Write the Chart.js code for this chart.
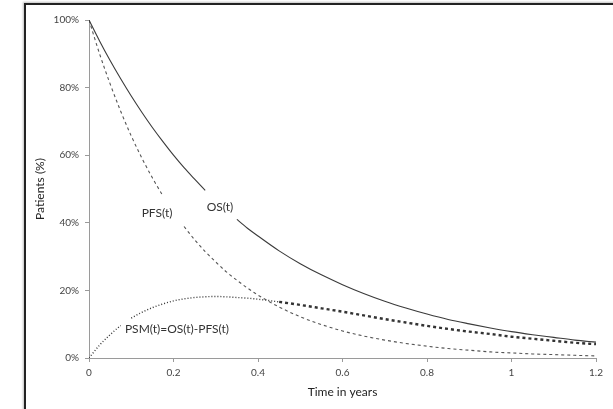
<!DOCTYPE html>
<html>
<head>
<meta charset="utf-8">
<script src="https://cdn.jsdelivr.net/npm/chart.js@4/dist/chart.umd.min.js"></script>
<style>
  html, body { margin: 0; padding: 0; background: #fff; }
  #wrap { position: relative; width: 613px; height: 409px; overflow: hidden; }
  #frame {
    position: absolute; left: 24px; top: 3px; width: 620px; height: 420px;
    border-left: 2px solid #222; border-top: 2px solid #222;
    box-shadow: -1px -1px 2px rgba(0,0,0,0.25);
  }
  canvas { position: absolute; left: 0; top: 0; }
</style>
</head>
<body>
<div id="wrap">
  <div id="frame"></div>
  <canvas id="chart" width="613" height="409"></canvas>
</div>
<script>
'use strict';

// time points (years)
var times = [0, 0.025, 0.05, 0.075, 0.1, 0.125, 0.15, 0.175, 0.2, 0.225, 0.25, 0.275, 0.3,
  0.325, 0.35, 0.375, 0.4, 0.45, 0.5, 0.55, 0.6, 0.65, 0.7, 0.75, 0.8, 0.85, 0.9, 0.95,
  1.0, 1.05, 1.1, 1.15, 1.2];

// overall survival (%)
var osValues = [100, 93.8, 88.0, 82.6, 77.5, 72.7, 68.2, 64.0, 60.0, 56.3, 52.9, 49.6, 46.5,
  43.7, 41.0, 38.4, 36.1, 31.7, 27.9, 24.6, 21.7, 19.1, 16.8, 14.8, 13.0, 11.4, 10.1, 8.9,
  7.8, 6.9, 6.1, 5.3, 4.7];

// progression free survival (%)
var pfsValues = [100, 90.0, 81.1, 73.0, 65.7, 59.2, 53.3, 48.0, 43.2, 38.9, 35.0, 31.5, 28.4,
  25.5, 23.0, 20.7, 18.6, 15.1, 12.2, 9.9, 8.0, 6.5, 5.3, 4.3, 3.5, 2.8, 2.3, 1.8,
  1.5, 1.2, 1.0, 0.8, 0.6];

// post-progression survival = OS - PFS (%)
var psmValues = [0, 3.8, 6.9, 9.6, 11.8, 13.5, 14.9, 16.0, 16.9, 17.5, 17.9, 18.1, 18.2,
  18.1, 17.9, 17.7, 17.4, 16.6, 15.7, 14.7, 13.7, 12.6, 11.5, 10.5, 9.5, 8.6, 7.8, 7.1,
  6.3, 5.7, 5.1, 4.5, 4.1];

var xTicks = [0, 0.2, 0.4, 0.6, 0.8, 1, 1.2];
var yTicks = [0, 20, 40, 60, 80, 100];

var labelFont = 'Lato, "Open Sans", sans-serif';

function toPoints(vals) {
    return times.map(function(t, i) { return { x: t, y: vals[i] }; });
}

// hide the part of a curve that runs under its label
function gap(from, to) {
    return function(ctx) {
        if (ctx.p0.parsed.x >= from - 1e-9 && ctx.p1.parsed.x <= to + 1e-9) {
            return 'rgba(0,0,0,0)';
        }
        return undefined;
    };
}

var curveLabels = {
    id: 'curveLabels',
    afterDatasetsDraw: function(chart) {
        var ctx = chart.ctx;
        var xs = chart.scales.x;
        var ys = chart.scales.y;
        ctx.save();
        ctx.fillStyle = '#333';
        ctx.font = '12px ' + labelFont;
        ctx.textBaseline = 'middle';
        ctx.textAlign = 'center';
        ctx.fillText('OS(t)', xs.getPixelForValue(0.31), ys.getPixelForValue(44.7));
        ctx.fillText('PFS(t)', xs.getPixelForValue(0.161), ys.getPixelForValue(42.9));
        ctx.textAlign = 'left';
        ctx.fillText('PSM(t)=OS(t)-PFS(t)', xs.getPixelForValue(0.085), ys.getPixelForValue(8.6));
        ctx.restore();
    }
};

var ctx = document.getElementById('chart').getContext('2d');

var chart = new Chart(ctx, {
    type: 'line',
    data: {
        datasets: [
            {
                label: 'OS(t)',
                data: toPoints(osValues),
                borderColor: '#3a3a3a',
                borderWidth: 1.1,
                segment: { borderColor: gap(0.275, 0.35) }
            },
            {
                label: 'PFS(t)',
                data: toPoints(pfsValues),
                borderColor: '#555',
                borderWidth: 1.1,
                borderDash: [3, 3],
                segment: { borderColor: gap(0.175, 0.225) }
            },
            {
                label: 'PSM(t)',
                data: toPoints(psmValues),
                borderColor: '#333',
                borderWidth: 1.4,
                borderDash: [1, 2],
                segment: {
                    borderColor: gap(0.075, 0.1),
                    borderWidth: function(c) { return c.p0.parsed.x >= 0.45 ? 2.4 : undefined; },
                    borderDash: function(c) { return c.p0.parsed.x >= 0.45 ? [3, 3] : undefined; }
                }
            }
        ]
    },
    options: {
        responsive: false,
        animation: false,
        events: [],
        cubicInterpolationMode: 'monotone',
        elements: { point: { radius: 0 } },
        layout: { padding: { top: 20, right: 17, left: 0, bottom: 0 } },
        plugins: {
            legend: { display: false },
            tooltip: { enabled: false }
        },
        scales: {
            x: {
                type: 'linear',
                min: 0,
                max: 1.2,
                afterFit: function(scale) { scale.height = 51; },
                afterBuildTicks: function(scale) {
                    scale.ticks = xTicks.map(function(v) { return { value: v }; });
                },
                border: { color: '#9a9a9a', width: 1 },
                grid: { drawOnChartArea: false, tickLength: 4, color: '#9a9a9a' },
                ticks: {
                    padding: 5,
                    color: '#444',
                    font: { family: labelFont, size: 10 },
                    callback: function(v) { return String(v); }
                },
                title: {
                    display: true,
                    text: 'Time in years',
                    color: '#222',
                    font: { family: labelFont, size: 12 },
                    padding: { top: 0, bottom: 10 }
                }
            },
            y: {
                min: 0,
                max: 100,
                afterFit: function(scale) { scale.width = 89; },
                afterBuildTicks: function(scale) {
                    scale.ticks = yTicks.map(function(v) { return { value: v }; });
                },
                border: { color: '#9a9a9a', width: 1 },
                grid: { drawOnChartArea: false, tickLength: 4, color: '#9a9a9a' },
                ticks: {
                    padding: 6,
                    color: '#444',
                    font: { family: labelFont, size: 10 },
                    callback: function(v) { return v + '%'; }
                },
                title: {
                    display: true,
                    text: 'Patients (%)',
                    color: '#222',
                    font: { family: labelFont, size: 12 },
                    padding: { top: 33, bottom: 0 }
                }
            }
        }
    },
    plugins: [curveLabels]
});
</script>
</body>
</html>
